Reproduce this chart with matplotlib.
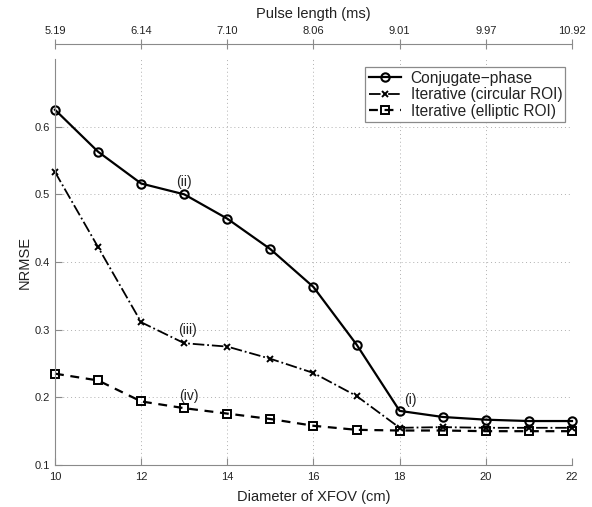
import matplotlib.pyplot as plt

plt.rcParams['font.family'] = ['Liberation Sans', 'DejaVu Sans']

xfov = [10, 11, 12, 13, 14, 15, 16, 17, 18, 19, 20, 21, 22]
conj_phase = [0.625, 0.563, 0.516, 0.500, 0.464, 0.419, 0.363, 0.278, 0.180, 0.171, 0.167, 0.165, 0.165]
iter_circ = [0.533, 0.422, 0.311, 0.280, 0.275, 0.257, 0.236, 0.202, 0.155, 0.156, 0.155, 0.155, 0.155]
iter_ellip = [0.235, 0.225, 0.194, 0.184, 0.176, 0.168, 0.158, 0.152, 0.151, 0.151, 0.150, 0.150, 0.150]

xticks = [10, 12, 14, 16, 18, 20, 22]
pulse_labels = ['5.19', '6.14', '7.10', '8.06', '9.01', '9.97', '10.92']
yticks = [0.1, 0.2, 0.3, 0.4, 0.5, 0.6]

notes = ['(i)', '(ii)', '(iii)', '(iv)']
note_x = [18.25, 13.0, 13.08, 13.1]
note_y = [0.196, 0.518, 0.299, 0.202]

txt = '#222222'
spine_c = '#8a8a8a'

fig = plt.figure(figsize=(5.92, 5.07), dpi=100)
ax = fig.add_axes([0.0929, 0.0828, 0.8733, 0.8008])

ax.plot(xfov, conj_phase, '-', color='black', lw=1.6, marker='o', ms=6,
        mfc='none', mew=1.5, label='Conjugate\u2212phase', clip_on=False)
ax.plot(xfov, iter_circ, '-.', color='black', lw=1.3, marker='x', ms=4,
        mew=1.4, label='Iterative (circular ROI)', clip_on=False)
ax.plot(xfov, iter_ellip, '--', color='black', lw=1.6, marker='s', ms=5.5,
        mfc='none', mew=1.4, dashes=(4, 3), label='Iterative (elliptic ROI)',
        clip_on=False)

for t, x, y in zip(notes, note_x, note_y):
    ax.text(x, y, t, ha='center', va='center', fontsize=10, color=txt)

ax.set_xlim(10, 22)
ax.set_ylim(0.1, 0.7)
ax.set_xticks(xticks)
ax.set_yticks(yticks)
ax.set_yticklabels(['0.1', '0.2', '0.3', '0.4', '0.5', '0.6'])
ax.grid(True, ls=(0, (1, 3)), color='#b0b0b0', lw=0.7)
ax.set_axisbelow(True)

ax.spines['top'].set_visible(False)
ax.spines['right'].set_visible(False)
ax.spines['left'].set_color(spine_c)
ax.spines['bottom'].set_color(spine_c)
ax.tick_params(direction='in', length=5, color=spine_c, labelsize=8,
               labelcolor=txt, width=0.8)
ax.tick_params(axis='x', pad=5)

ax.set_xlabel('Diameter of XFOV (cm)', fontsize=10.5, color=txt, labelpad=6)
ax.set_ylabel('NRMSE', fontsize=10.5, color=txt, labelpad=2)

# pulse length axis above the plot box
top = ax.secondary_xaxis(1.037)
top.set_xticks(xticks)
top.set_xticklabels(pulse_labels)
top.spines['top'].set_color(spine_c)
top.tick_params(direction='inout', length=7, color=spine_c, labelsize=8,
                labelcolor=txt, width=0.8, pad=2)
top.set_xlabel('Pulse length (ms)', fontsize=10.5, color=txt, labelpad=6)

leg = ax.legend(loc='upper right', bbox_to_anchor=(0.993, 0.987), fontsize=11.2,
                handlelength=2.1, handletextpad=0.6, borderpad=0.2,
                borderaxespad=0.2, labelspacing=0.1, fancybox=False, framealpha=1)
leg.get_frame().set_edgecolor(spine_c)
leg.get_frame().set_linewidth(0.9)
for t in leg.get_texts():
    t.set_color(txt)

fig.savefig('out.png', dpi=100)
